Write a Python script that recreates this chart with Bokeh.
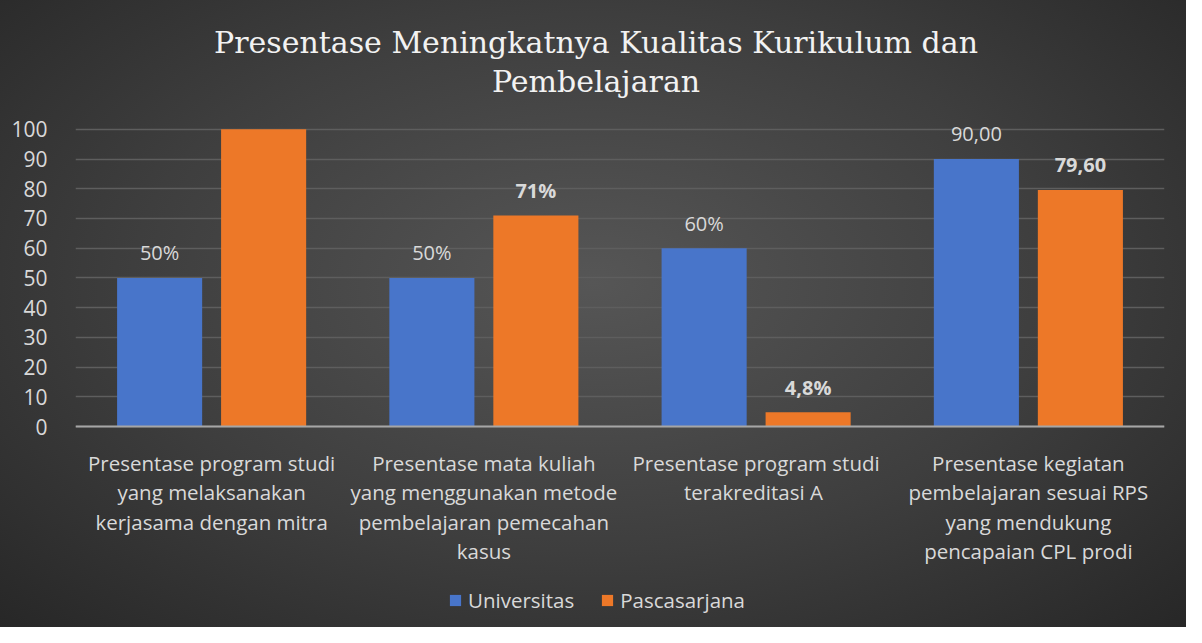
from bokeh.plotting import figure
from bokeh.models import (FactorRange, Range1d, FixedTicker, LabelSet, Label, ColumnDataSource,
                          Legend, LegendItem, Span)
from bokeh.core.properties import value
from bokeh.transform import dodge
from bokeh.embed import file_html
from bokeh.resources import INLINE

categories = [
    "Presentase program studi\nyang melaksanakan\nkerjasama dengan mitra",
    "Presentase mata kuliah\nyang menggunakan metode\npembelajaran pemecahan\nkasus",
    "Presentase program studi\nterakreditasi  A",
    "Presentase kegiatan\npembelajaran sesuai RPS\nyang mendukung\npencapaian CPL prodi",
]
universitas = [50, 50, 60, 90]
pascasarjana = [100, 71, 4.8, 79.6]
univ_labels = ["50%", "50%", "60%", "90,00"]
pasca_labels = ["", "71%", "4,8%", "79,60"]
y_ticks = [0, 10, 20, 30, 40, 50, 60, 70, 80, 90, 100]
title_line1 = "Presentase Meningkatnya Kualitas Kurikulum dan"
title_line2 = "Pembelajaran"

BLUE = "#4875ca"
ORANGE = "#ed7828"
TXT = "#d9d9d9"
FONT = "Open Sans"

W, H = 1186, 627
LEFT, RIGHT = 75, 22
ZERO_PX, TOP100_PX = 426, 127       # canvas y of value 0 and of the top gridline
y_top_val = 100.6
ppu = (ZERO_PX - TOP100_PX) / y_top_val
y_end = y_top_val + TOP100_PX / ppu
y_start = -(H - ZERO_PX) / ppu

def px_to_y(cy):
    return (ZERO_PX - cy) / ppu

src = ColumnDataSource(dict(cat=categories, u=universitas, p=pascasarjana,
                            ul=univ_labels, pl=pasca_labels))

# one row per line of each category label, so every line is centred
line_cat, line_txt, line_off = [], [], []
for c in categories:
    for i, t in enumerate(c.split("\n")):
        line_cat.append(c)
        line_txt.append(t)
        line_off.append(-(36 + 29.5 * i))
src_lines = ColumnDataSource(dict(cat=line_cat, txt=line_txt, off=line_off))

p = figure(width=W, height=H,
           x_range=FactorRange(factors=categories, range_padding=0),
           y_range=Range1d(y_start, y_end), output_backend="svg", toolbar_location=None,
           x_axis_location=None,
           min_border_left=LEFT, min_border_right=RIGHT, min_border_top=0, min_border_bottom=0)

p.styles = {"background-image": "radial-gradient(ellipse at 50% 45%, #565656 0%, #3e3e3e 55%, #272727 100%)"}
p.border_fill_alpha = 0
p.background_fill_alpha = 0
p.outline_line_color = None

bw = 0.3125
off = 0.191
rb = p.vbar(x=dodge("cat", -off, range=p.x_range), top="u", width=bw, source=src,
            fill_color=BLUE, line_color=None)
ro = p.vbar(x=dodge("cat", off, range=p.x_range), top="p", width=bw, source=src,
            fill_color=ORANGE, line_color=None)

p.add_layout(Span(location=0, dimension="width", line_color="#a6a6a6", line_width=2))

lu = LabelSet(x=dodge("cat", -off, range=p.x_range), y="u", text="ul", source=src,
              text_align="center", text_baseline="middle", y_offset=25,
              text_color=TXT, text_font=value(FONT), text_font_size="20px")
lp = LabelSet(x=dodge("cat", off, range=p.x_range), y="p", text="pl", source=src,
              text_align="center", text_baseline="middle", y_offset=25,
              text_color=TXT, text_font=value(FONT), text_font_size="20px",
              text_font_style="bold")
p.add_layout(lu)
p.add_layout(lp)

lc = LabelSet(x="cat", y=0, text="txt", source=src_lines, y_offset="off",
              text_align="center", text_baseline="middle",
              text_color=TXT, text_font=value(FONT), text_font_size="20.5px")
p.add_layout(lc)

p.xgrid.grid_line_color = None
p.ygrid.grid_line_color = "#5e5e5e"
p.ygrid.grid_line_width = 1.5
p.yaxis.ticker = FixedTicker(ticks=y_ticks)
p.ygrid.ticker = FixedTicker(ticks=y_ticks)
p.yaxis.axis_line_color = None
p.yaxis.major_tick_line_color = None
p.yaxis.minor_tick_line_color = None
p.yaxis.major_label_text_color = TXT
p.yaxis.major_label_text_font = FONT
p.yaxis.major_label_text_font_size = "21px"
p.yaxis.major_label_standoff = 22

legend = Legend(items=[LegendItem(label="Universitas", renderers=[rb]),
                       LegendItem(label="Pascasarjana", renderers=[ro])],
                orientation="horizontal", location=(373, 13),
                label_text_color=TXT, label_text_font=FONT, label_text_font_size="20.5px",
                glyph_width=14, glyph_height=14, spacing=26, label_standoff=6,
                label_height=24, background_fill_alpha=0, border_line_color=None,
                margin=0, padding=0)
p.add_layout(legend)

# title, centred over the whole chart
title_x = (595.5 - LEFT) / (W - LEFT - RIGHT) * len(categories)
for txt, cy in ((title_line1, 42), (title_line2, 81)):
    p.add_layout(Label(x=title_x, y=px_to_y(cy), text=txt, text_align="center",
                       text_baseline="middle", text_color="#f2f2f2",
                       text_font="DejaVu Serif", text_font_size="30px"))

open("out.html", "w").write(file_html(p, INLINE))
